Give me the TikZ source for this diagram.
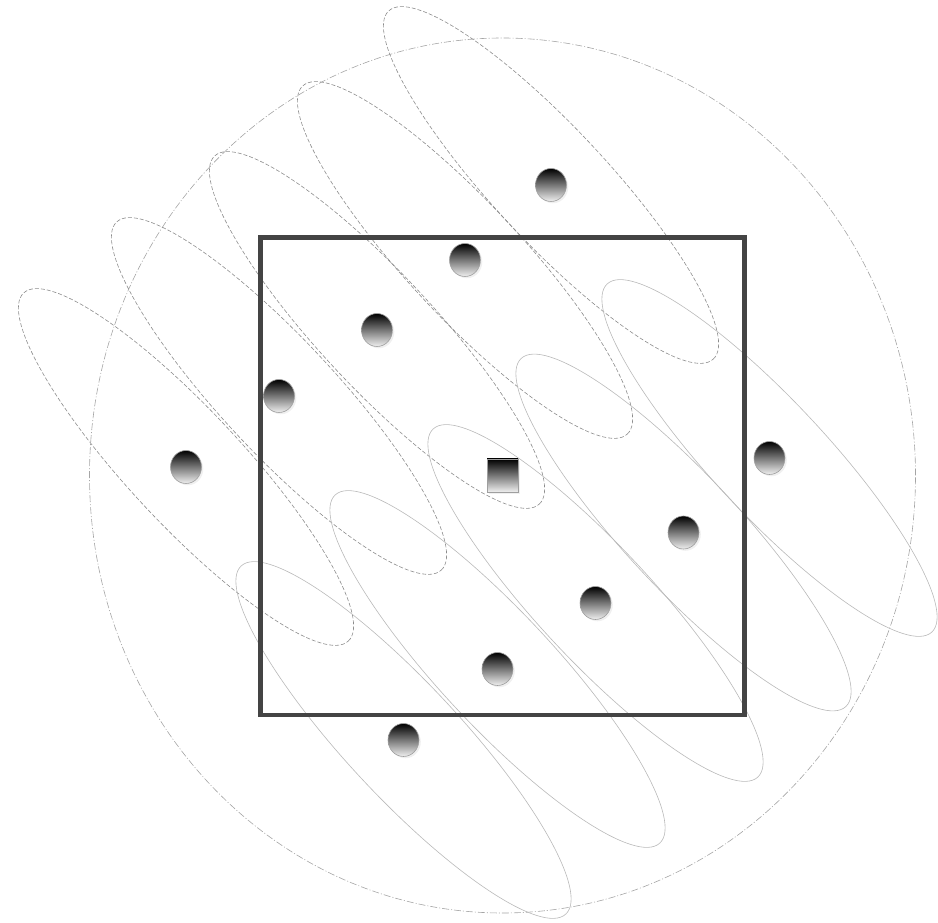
\documentclass[tikz,border=0pt]{standalone}
\usepackage{tikz}
\usetikzlibrary{shapes.geometric,shadows,backgrounds}

\definecolor{framegray}{RGB}{68,68,68}
\definecolor{orbitgray}{RGB}{140,140,140}
\definecolor{lightorbit}{RGB}{185,185,185}
\definecolor{rimgray}{RGB}{165,165,165}

\tikzset{
  ball/.style={ellipse, minimum width=31pt, minimum height=33pt, inner sep=0pt,
    draw=gray!75, line width=0.6pt, top color=black, bottom color=black!6,
    drop shadow={shadow xshift=1.8pt, shadow yshift=-1.8pt, opacity=0.12}},
  hub/.style={rectangle, minimum width=31pt, minimum height=33pt, inner sep=0pt,
    draw=gray!75, line width=0.6pt, top color=black, bottom color=black!6,
    drop shadow={shadow xshift=1.8pt, shadow yshift=-1.8pt, opacity=0.12}},
  dashorbit/.style={draw=orbitgray, dash pattern=on 4pt off 2pt, line width=0.6pt},
  solidorbit/.style={draw=lightorbit, line width=0.6pt},
  rim/.style={draw=rimgray, dash pattern=on 7pt off 2pt on 1pt off 2pt, line width=0.6pt},
  frame/.style={draw=framegray, line width=4.5pt,
    drop shadow={shadow xshift=1.5pt, shadow yshift=-1.5pt, opacity=0.08, fill=none, draw=black}}
}

\begin{document}
\begin{tikzpicture}[x=1pt,y=1pt]
  \useasboundingbox (0,0) rectangle (938,922);

  % sink in the middle
  \node[hub] (sq) at (502.5,446.5) {};

  % nodes with dashed range
  \foreach \n/\x/\y in {b1/551/737, b2/465/662, b3/377/592, b4/279/526, b5/186/455}
    \node[ball] (\n) at (\x,\y) {};
  % nodes with solid range
  \foreach \n/\x/\y in {b6/769.5/464, b7/683.5/389.5, b8/595.5/319, b9/497.5/253, b10/403.5/182}
    \node[ball] (\n) at (\x,\y) {};

  \begin{scope}[on background layer]
    \draw[rim] (sq) ellipse [x radius=413, y radius=437.5];
    \foreach \n in {b1,b2,b3,b4,b5}
      \draw[dashorbit, rotate around={-47:(\n)}] (\n) ellipse [x radius=238, y radius=57];
    \foreach \n in {b6,b7,b8,b9,b10}
      \draw[solidorbit, rotate around={-47:(\n)}] (\n) ellipse [x radius=238, y radius=57];
    \draw[framegray, line width=4.5pt] (260.5,684.5) rectangle (744.7,207);
  \end{scope}
\end{tikzpicture}
\end{document}
